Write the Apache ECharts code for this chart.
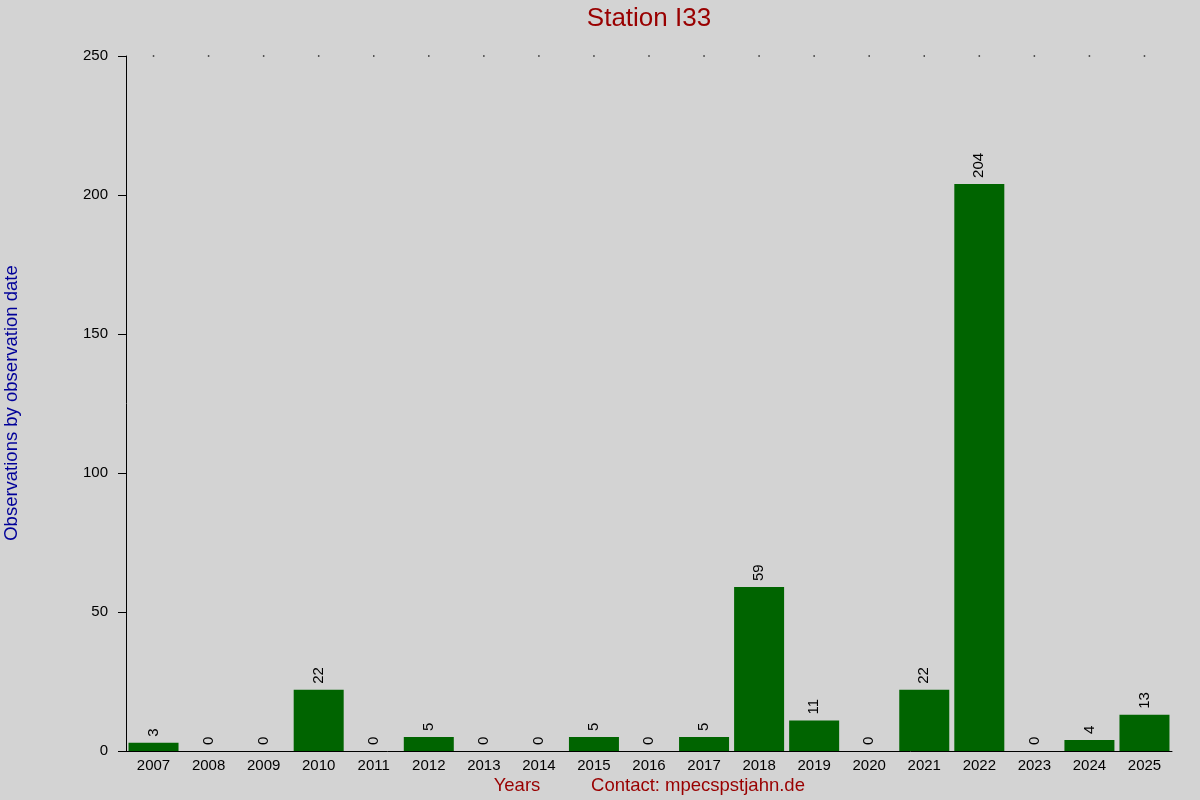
<!DOCTYPE html>
<html><head><meta charset="utf-8">
<script src="https://cdn.jsdelivr.net/npm/echarts@6/dist/echarts.min.js"></script>
<style>html,body{margin:0;padding:0;background:#d3d3d3}#c{width:1200px;height:800px}</style>
</head><body><div id="c"></div>
<script>
const years = ['2007','2008','2009','2010','2011','2012','2013','2014','2015','2016','2017','2018','2019','2020','2021','2022','2023','2024','2025'];
const observations = [3,0,0,22,0,5,0,0,5,0,5,59,11,0,22,204,0,4,13];
const yTicks = [0,50,100,150,200,250];
const yMax = 250;
const F = 'Liberation Sans, Arial, sans-serif';
const chart = echarts.init(document.getElementById('c'));
chart.setOption({
  backgroundColor:'#d3d3d3',
  animation:false,
  grid:{left:126,right:28,top:56,bottom:49},
  xAxis:{type:'category',data:years,
    axisLine:{show:true,lineStyle:{color:'#000',width:1}},
    axisTick:{show:false},
    axisLabel:{color:'#000',fontSize:15,fontFamily:F,margin:7},
    splitLine:{show:false}},
  yAxis:{type:'value',min:yTicks[0],max:yMax,interval:50,
    axisLine:{show:true,lineStyle:{color:'#000',width:1}},
    axisTick:{show:true,length:8,lineStyle:{color:'#000'}},
    axisLabel:{color:'#000',fontSize:15,fontFamily:F,margin:18},
    splitLine:{show:false}},
  series:[
    {type:'bar',data:observations,barWidth:50,
     itemStyle:{color:'#006400'},
     label:{show:true,position:'top',rotate:90,align:'left',verticalAlign:'middle',distance:6,color:'#000',fontSize:15,fontFamily:F}},
    {type:'scatter',data:years.map(()=>yMax),symbol:'rect',symbolSize:1.5,itemStyle:{color:'#000'},silent:true}
  ],
  graphic:[
    {type:'text',x:649,y:19,style:{text:'Station I33',fill:'#990000',font:'26px '+F,textAlign:'center',textVerticalAlign:'middle'}},
    {type:'text',x:12,y:403,rotation:Math.PI/2,style:{text:'Observations by observation date',fill:'#000099',font:'18.5px '+F,textAlign:'center',textVerticalAlign:'middle'}},
    {type:'text',x:517,y:786,style:{text:'Years',fill:'#990000',font:'18.5px '+F,textAlign:'center',textVerticalAlign:'middle'}},
    {type:'text',x:698,y:786,style:{text:'Contact: mpecspstjahn.de',fill:'#990000',font:'18.5px '+F,textAlign:'center',textVerticalAlign:'middle'}}
  ]
});
</script></body></html>
